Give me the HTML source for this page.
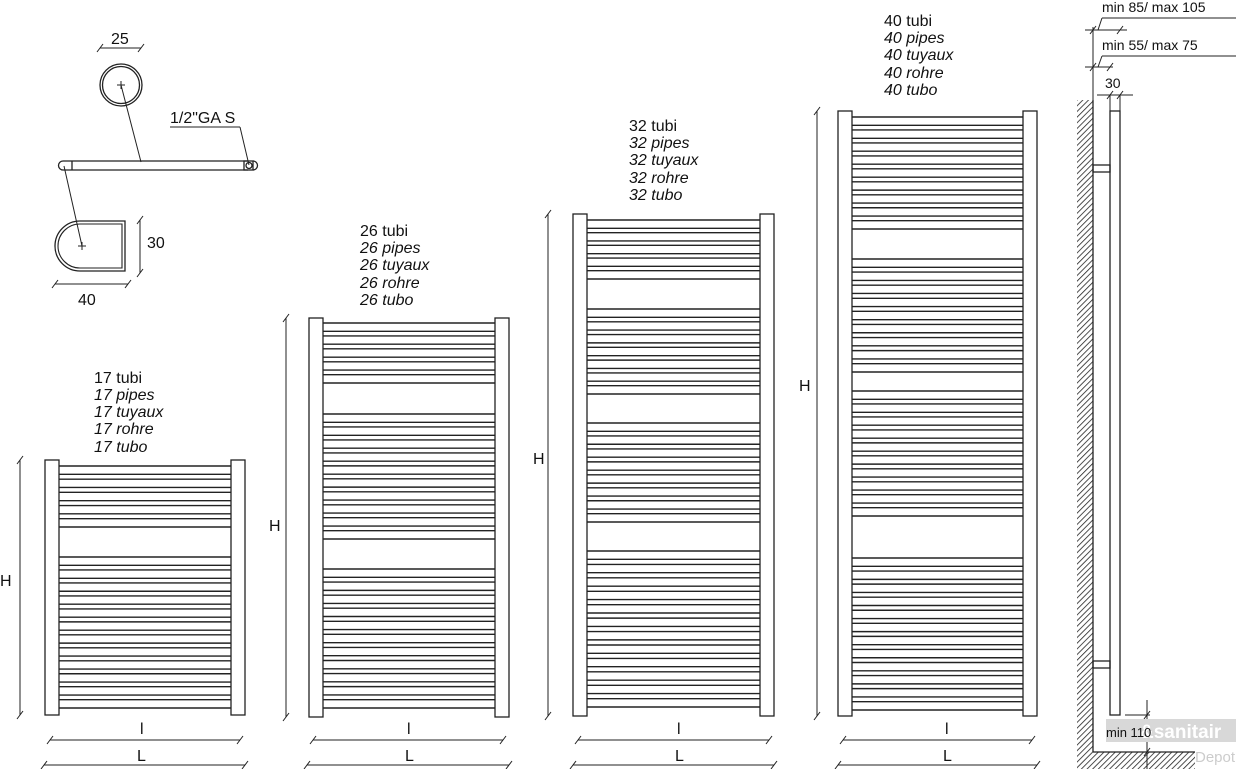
<!DOCTYPE html>
<html><head><meta charset="utf-8"><style>
html,body{margin:0;padding:0;background:#fff;width:1236px;height:769px;overflow:hidden}
svg{display:block}
text{font-family:"Liberation Sans",sans-serif;fill:#111}
.t{font-size:16px}
.i{font-size:16px;font-style:italic}
</style></head><body>
<svg id="s" width="1236" height="769" viewBox="0 0 1236 769" xmlns="http://www.w3.org/2000/svg">
<defs>
<pattern id="h" width="4" height="4" patternUnits="userSpaceOnUse" patternTransform="rotate(45)">
<rect width="4" height="4" fill="#fff"/><line x1="0" y1="0" x2="0" y2="4" stroke="#222" stroke-width="1.6"/></pattern>
</defs>
<g id="g" stroke="#222" stroke-width="1.3" fill="none"></g>
<g class="t">
<text x="94" y="383" class="t">17 tubi</text><text x="94" y="400" class="i">17 pipes</text><text x="94" y="417" class="i">17 tuyaux</text><text x="94" y="434" class="i">17 rohre</text><text x="94" y="452" class="i">17 tubo</text>
<text x="360" y="236" class="t">26 tubi</text><text x="360" y="253" class="i">26 pipes</text><text x="360" y="270" class="i">26 tuyaux</text><text x="360" y="288" class="i">26 rohre</text><text x="360" y="305" class="i">26 tubo</text>
<text x="629" y="131" class="t">32 tubi</text><text x="629" y="148" class="i">32 pipes</text><text x="629" y="165" class="i">32 tuyaux</text><text x="629" y="183" class="i">32 rohre</text><text x="629" y="200" class="i">32 tubo</text>
<text x="884" y="26" class="t">40 tubi</text><text x="884" y="43" class="i">40 pipes</text><text x="884" y="60" class="i">40 tuyaux</text><text x="884" y="78" class="i">40 rohre</text><text x="884" y="95" class="i">40 tubo</text>
<text x="0" y="586" class="t">H</text><text x="269" y="531" class="t">H</text><text x="533" y="464" class="t">H</text><text x="799" y="391" class="t">H</text>
<text x="140" y="734" class="t">l</text><text x="137" y="761" class="t">L</text>
<text x="407" y="734" class="t">l</text><text x="405" y="761" class="t">L</text>
<text x="677" y="734" class="t">l</text><text x="675" y="761" class="t">L</text>
<text x="945" y="734" class="t">l</text><text x="943" y="761" class="t">L</text>
<text x="111" y="44" class="t">25</text>
<text x="170" y="123" class="t">1/2"GA  S</text>
<text x="147" y="248" class="t">30</text>
<text x="78" y="305" class="t">40</text>
<text x="1102" y="12" class="t" style="font-size:14px">min 85/ max 105</text>
<text x="1102" y="50" class="t" style="font-size:14px">min 55/ max 75</text>
<text x="1105" y="88" class="t" style="font-size:14px">30</text>
</g>
<rect x="1106" y="719" width="130" height="23" fill="#d8d8d8"/>
<text x="1140" y="738" style="font-size:19px;font-weight:bold;fill:#fff">&amp;sanitair</text>
<text x="1195" y="762" style="font-size:15px;fill:#ccc">Depot</text>
<text x="1106" y="737" style="font-size:13px">min 110</text>
</svg>
<script>
var g=document.getElementById('g'),NS='http://www.w3.org/2000/svg';
function el(n,a){var e=document.createElementNS(NS,n);for(var k in a)e.setAttribute(k,a[k]);g.appendChild(e);return e}
function L(x1,y1,x2,y2,w){el('line',{x1:x1,y1:y1,x2:x2,y2:y2,'stroke-width':w||1.2})}
function tick(x,y){L(x-3,y+4,x+3,y-4,1)}
function rad(lx,rx,top,bot,groups){
 el('rect',{x:lx,y:top,width:14,height:bot-top});
 el('rect',{x:rx,y:top,width:14,height:bot-top});
 groups.forEach(function(gr){var s=gr[0],e=gr[1],n=gr[2],h=8.3,p=(e-s-h)/(n-1);
  for(var i=0;i<n;i++){var y=s+i*p;L(lx+14,y,rx,y,1.4);L(lx+14,y+h,rx,y+h,1.4);}});
}
rad(45,231,460,715,[[466,527,5],[557,708,12]]);
rad(309,495,318,717,[[323,383,5],[414,539,10],[569,708,11]]);
rad(573,760,214,716,[[220,279,5],[309,394,7],[423,522,8],[551,707,12]]);
rad(838,1023,111,716,[[117,229,9],[259,372,9],[391,516,10],[558,710,12]]);
[[20,460,715],[286,318,717],[548,214,716],[817,111,716]].forEach(function(d){L(d[0],d[1],d[0],d[2],1);tick(d[0],d[1]);tick(d[0],d[2]);});
[[50,240,44,245],[313,503,307,509],[578,769,573,774],[843,1032,838,1037]].forEach(function(d){
 L(d[0],740,d[1],740,1);tick(d[0],740);tick(d[1],740);L(d[2],765,d[3],765,1);tick(d[2],765);tick(d[3],765);});
el('circle',{cx:121,cy:85,r:21,'stroke-width':1.3});el('circle',{cx:121,cy:85,r:18.5,'stroke-width':1.3});
L(117,85,125,85,1);L(121,81,121,89,1);
L(100,48,141,48,1);tick(100,48);tick(141,48);
L(121,85,141,162,1);
el('path',{d:'M72 161 H248 M72 170 H248 M72 161 H63 A4.5 4.5 0 0 0 63 170 H72 Z'});
el('rect',{x:244,y:161,width:9,height:9});el('circle',{cx:249,cy:165.5,r:3});
el('path',{d:'M253 161 A4.5 4.5 0 0 1 253 170'});
L(170,127,240,127,1);L(240,127,249,165,1);
L(64,166,82,246,1);
el('path',{d:'M80 221 H125 V271 H80 A25 25 0 0 1 80 221 Z','stroke-width':1.3});
el('path',{d:'M80 224 H122 V268 H80 A22 22 0 0 1 80 224 Z','stroke-width':1.1});
L(78,246,86,246,1);L(82,242,82,250,1);
L(140,220,140,273,1);tick(140,220);tick(140,273);
L(55,284,128,284,1);tick(55,284);tick(128,284);
el('rect',{x:1077,y:100,width:16,height:669,fill:'url(#h)',stroke:'none'});
el('rect',{x:1077,y:752,width:118,height:17,fill:'url(#h)',stroke:'none'});
L(1093,100,1093,752,1.3);L(1093,752,1195,752,1.3);
el('rect',{x:1110,y:111,width:10,height:604});
el('rect',{x:1093,y:165,width:17,height:7});el('rect',{x:1093,y:661,width:17,height:7});
L(1093,27,1093,100,1);
L(1085,30,1127,30,1);tick(1093,30);tick(1120,30);L(1102,18,1236,18,1);L(1102,18,1098,30,1);
L(1085,67,1113,67,1);tick(1093,67);tick(1110,67);L(1102,56,1236,56,1);L(1102,56,1098,67,1);
L(1097,95,1133,95,1);tick(1110,95);tick(1120,95);L(1110,95,1110,111,1);L(1120,95,1120,111,1);
L(1125,715,1150,715,1);L(1147,700,1147,769,1);tick(1147,715);tick(1147,752);
</script>
</body></html>
